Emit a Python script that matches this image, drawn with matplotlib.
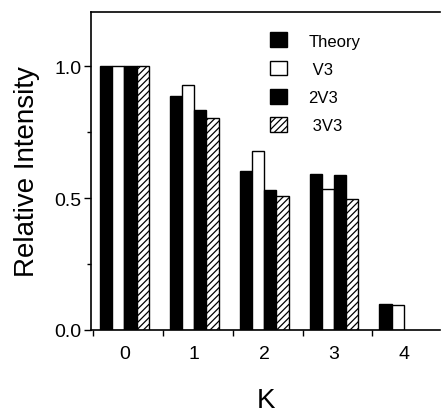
import matplotlib
matplotlib.use("Agg")
import matplotlib.pyplot as plt
import numpy as np

plt.rcParams['font.family'] = ['Liberation Sans', 'DejaVu Sans']
plt.rcParams['hatch.linewidth'] = 0.9

k_labels = ["0", "1", "2", "3", "4"]
series = ["Theory", "V3", "2V3", "3V3"]
theory = [1.0, 0.885, 0.601, 0.591, 0.100]
v3 = [1.0, 0.928, 0.677, 0.534, 0.095]
v3_2 = [1.0, 0.833, 0.530, 0.586, 0.0]
v3_3 = [1.0, 0.804, 0.506, 0.496, 0.0]

values = [theory, v3, v3_2, v3_3]
faces = ["black", "white", "black", "white"]
hatches = [None, None, None, "/////"]
legend_labels = ["Theory", " V3", "2V3", " 3V3"]

fig = plt.figure(figsize=(4.41, 4.14), dpi=100)
ax = fig.add_axes([0.2063, 0.2005, 0.7917, 0.7681])

x = np.arange(len(k_labels))
w = 0.175
offsets = (np.arange(4) - 1.5) * w
handles = []
for vals, fc, h, off, lab in zip(values, faces, hatches, offsets, legend_labels):
    vals = np.array(vals)
    mask = vals > 0
    b = ax.bar(x[mask] + off, vals[mask], width=w, color=fc, edgecolor="black",
               linewidth=1.0, hatch=h, label=lab)
    handles.append(b)

ax.set_xlim(-0.479, 4.52)
ax.set_ylim(0, 1.205)
ax.set_yticks([0.0, 0.5, 1.0])
ax.set_yticklabels(["0.0", "0.5", "1.0"])
ax.set_yticks([0.25, 0.75], minor=True)
ax.set_xticks(x)
ax.set_xticklabels(k_labels)
ax.set_xticks(x - 0.45, minor=True)
ax.tick_params(axis='x', which='major', length=0, labelsize=14, pad=11)
ax.tick_params(axis='x', which='minor', length=4, width=1.0, direction='out')
ax.tick_params(axis='y', which='major', length=5, width=1.0, direction='out', labelsize=14, pad=2)
ax.tick_params(axis='y', which='minor', length=3, width=1.0, direction='out')

for s in ["left", "bottom", "top"]:
    ax.spines[s].set_linewidth(1.2)
ax.spines["right"].set_visible(False)

ax.set_ylabel("Relative Intensity", fontsize=20, labelpad=10)
ax.set_xlabel("K", fontsize=20, labelpad=18)

leg = ax.legend(handles=handles, loc="upper left", bbox_to_anchor=(0.494, 0.957),
                frameon=False, fontsize=12, handlelength=1.0, handleheight=1.0,
                handletextpad=1.3, labelspacing=0.72, borderaxespad=0)

fig.savefig("out.png", dpi=100)
